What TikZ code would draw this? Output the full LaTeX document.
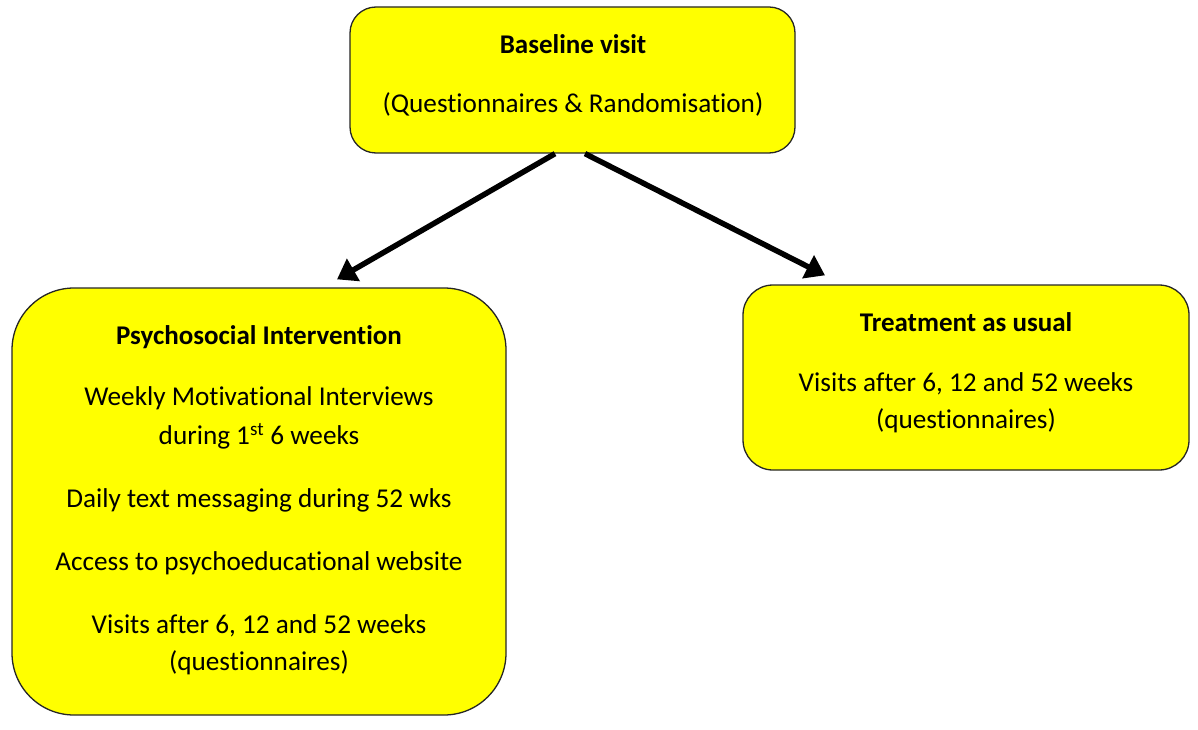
\documentclass[tikz,border=0pt]{standalone}
\usepackage{fontspec}
\setmainfont{Carlito}[Ligatures={NoCommon,NoContextual},RawFeature={-liga;-clig;-calt}]
\usetikzlibrary{arrows.meta}
\definecolor{boxyellow}{RGB}{255,255,0}
\begin{document}
\begin{tikzpicture}[x=1pt,y=-1pt,
  box/.style={draw=black!85,line width=1.3pt,fill=boxyellow,rectangle,inner sep=0pt},
  txt/.style={inner sep=0pt,anchor=center,font=\fontsize{27.2}{34}\selectfont},
  hdr/.style={txt,font=\fontsize{27}{34}\selectfont\bfseries},
  arr/.style={line width=5.5pt,-{Triangle[length=19pt,width=25pt]}}]
\useasboundingbox (0,0) rectangle (1198,730);
\node[box,rounded corners=26pt,minimum width=445pt,minimum height=146pt] (base) at (572.5,80) {};
\node[box,rounded corners=62pt,minimum width=494pt,minimum height=427pt] (psy) at (259,501.5) {};
\node[box,rounded corners=30pt,minimum width=446pt,minimum height=185pt] (tau) at (966,377.5) {};
\node[hdr] (t1) at (573,44) {Baseline visit};
\node[txt] (t2) at (573,104) {(Questionnaires \& Randomisation)};
\node[hdr] (p1) at (259,337) {Psychosocial Intervention};
\node[txt] (p2) at (259,398) {Weekly Motivational Interviews};
\node[txt] (p3) at (259,436) {during 1\textsuperscript{st} 6 weeks};
\node[txt] (p4) at (259,500) {Daily text messaging during 52 wks};
\node[txt] (p5) at (259,563) {Access to psychoeducational website};
\node[txt] (p6) at (259,626) {Visits after 6, 12 and 52 weeks};
\node[txt] (p7) at (259,663) {(questionnaires)};
\node[hdr] (r1) at (966,322) {Treatment as usual};
\node[txt] (r2) at (966,384) {Visits after 6, 12 and 52 weeks};
\node[txt] (r3) at (966,421) {(questionnaires)};
\draw[arr] ([xshift=-17.5pt]base.south) -- ([xshift=78pt,yshift=8pt]psy.north);
\draw[arr] ([xshift=12.5pt]base.south) -- ([xshift=-141pt,yshift=9pt]tau.north);
\end{tikzpicture}
\end{document}
